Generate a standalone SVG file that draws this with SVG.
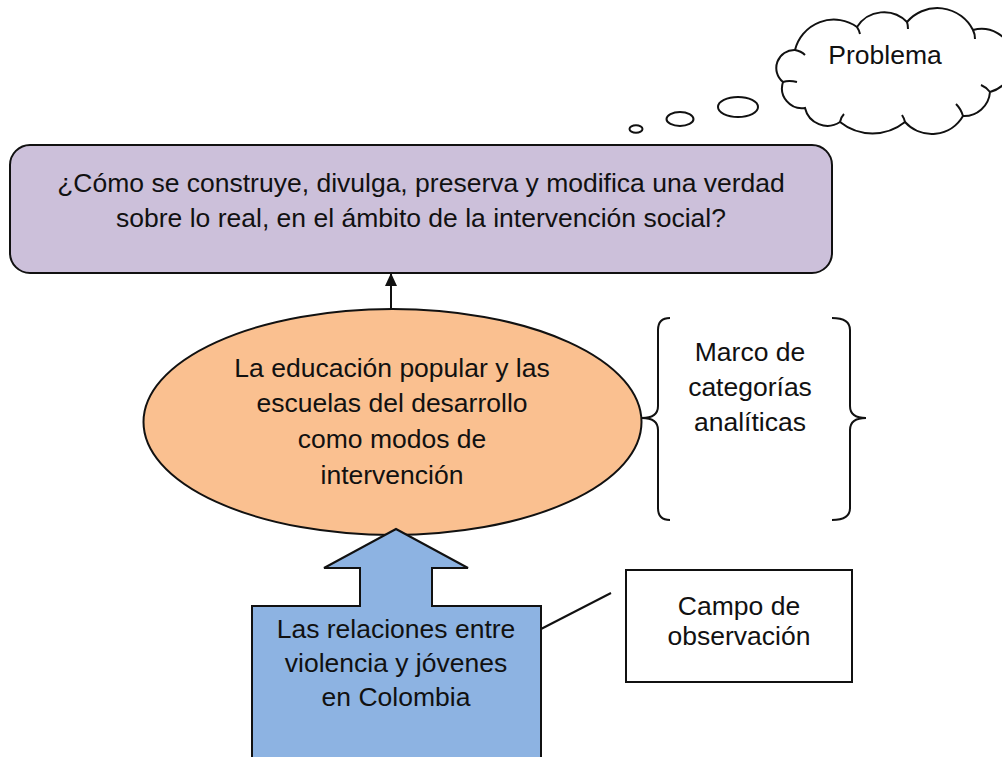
<svg xmlns="http://www.w3.org/2000/svg" width="1002" height="757" viewBox="0 0 1002 757">
<style>
text{font-family:"Liberation Sans",Arial,sans-serif;font-size:26.5px;fill:#111;text-anchor:middle}
.ln{fill:none;stroke:#111;stroke-width:2}
</style>
<defs>
<marker id="ah" markerWidth="14" markerHeight="14" refX="12" refY="7" orient="auto" markerUnits="userSpaceOnUse">
<path d="M0,1 L13,7 L0,13 Z" fill="#111"/>
</marker>
</defs>
<rect width="1002" height="757" fill="#fff"/>
<g id="cloud">
<path class="ln" style="fill:#fff" d="M783,82 A18,18 0 0 1 795,50 A40,40 0 0 1 857,27 A32,32 0 0 1 907,22 A40,40 0 0 1 973,30 A32,32 0 0 1 990,92 A26,26 0 0 1 963,116 A36,36 0 0 1 905,122 A52,52 0 0 1 840,122 A23,23 0 0 1 805,108 A20,20 0 0 1 783,82 Z"/>
<path class="ln" d="M795,50 Q801,51 805,55 M857,27 Q859,30 860,34 M907,22 Q908,25 908,29 M973,30 Q975,34 975,39 M990,92 Q986,87 981,85 M963,116 Q961,109 956,104 M905,122 Q904,118 902,115 M840,122 Q841,117 844,114 M783,82 Q789,80 797,82"/>
<text x="885" y="64">Problema</text>
</g>
<g id="bubbles">
<ellipse class="ln" cx="636" cy="129" rx="6.5" ry="3.8"/>
<ellipse class="ln" cx="680" cy="119" rx="13.5" ry="7"/>
<ellipse class="ln" cx="738" cy="107" rx="20" ry="10"/>
</g>
<g id="pregunta">
<rect x="10" y="145" width="822" height="128" rx="20" ry="20" fill="#CCC0DA" stroke="#111" stroke-width="2"/>
<text x="421" y="192">¿Cómo se construye, divulga, preserva y modifica una verdad</text>
<text x="421" y="227">sobre lo real, en el ámbito de la intervención social?</text>
</g>
<g id="marco">
<ellipse cx="392.5" cy="422" rx="249" ry="113" fill="#FAC090" stroke="#111" stroke-width="2"/>
<text x="392" y="377">La educación popular y las</text>
<text x="392" y="412">escuelas del desarrollo</text>
<text x="392" y="448">como modos de</text>
<text x="392" y="484">intervención</text>
</g>
<g id="categorias">
<path class="ln" d="M670,318 Q658,318 658,330 L658,406 Q658,418 642,418 Q658,418 658,430 L658,508 Q658,520 670,520"/>
<path class="ln" d="M832,318 Q850,318 850,330 L850,406 Q850,418 866,418 Q850,418 850,430 L850,508 Q850,520 832,520"/>
<text x="750" y="361">Marco de</text>
<text x="750" y="396">categorías</text>
<text x="750" y="431">analíticas</text>
</g>
<g id="relaciones">
<path d="M396,529 L468,568 L432,568 L432,606 L541,606 L541,760 L252,760 L252,606 L360,606 L360,568 L324,568 Z" fill="#8DB3E2" stroke="#111" stroke-width="2" stroke-linejoin="miter"/>
<text x="396" y="638">Las relaciones entre</text>
<text x="396" y="672">violencia y jóvenes</text>
<text x="396" y="706">en Colombia</text>
</g>
<g id="campo">
<rect x="626" y="570" width="226" height="112" fill="#fff" stroke="#111" stroke-width="2"/>
<text x="739" y="615">Campo de</text>
<text x="739" y="645">observación</text>
</g>
<g id="connectors">
<line class="ln" x1="391" y1="309" x2="391" y2="274" marker-end="url(#ah)"/>
<line class="ln" x1="541" y1="629" x2="611" y2="593"/>
</g>
</svg>
